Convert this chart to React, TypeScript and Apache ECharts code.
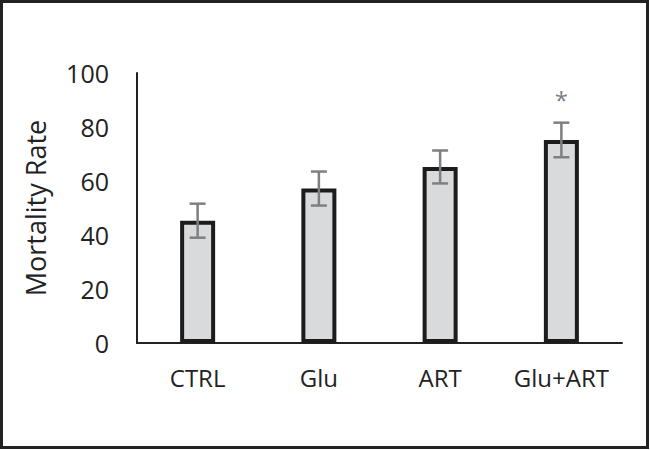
import React, { useEffect, useRef } from "react";
import * as echarts from "echarts";

const categories = ["CTRL", "Glu", "ART", "Glu+ART"];
const meanValues = [45.3, 57.2, 65.2, 75.2];
const errorValues = [6.3, 6.3, 6.1, 6.4];
const yTicks = [0, 20, 40, 60, 80, 100];
const significance = ["", "", "", "*"];

export default function App() {
  const ref = useRef<HTMLDivElement>(null);
  useEffect(() => {
    if (!ref.current) return;
    const chart = echarts.init(ref.current, undefined, { renderer: "svg" });
    const font = "'Open Sans', sans-serif";
    const errData = meanValues.map((m, i) => [i, m - errorValues[i], m + errorValues[i], significance[i]]);
    chart.setOption({
      animation: false,
      backgroundColor: "#ffffff",
      grid: { left: 137, right: 28, top: 73, bottom: 107 },
      graphic: [
        {
          type: "rect",
          shape: { x: 1.5, y: 1.5, width: 646, height: 446 },
          style: { fill: "none", stroke: "#222222", lineWidth: 3 },
          silent: true,
        },
      ],
      xAxis: {
        type: "category",
        data: categories,
        axisLine: { show: true, lineStyle: { color: "#222222", width: 2 } },
        axisTick: { show: false },
        axisLabel: { color: "#222222", fontSize: 24, fontFamily: font, margin: 22, interval: 0, hideOverlap: false },
      },
      yAxis: {
        type: "value",
        min: yTicks[0],
        max: yTicks[yTicks.length - 1],
        interval: 20,
        name: "Mortality Rate",
        nameLocation: "middle",
        nameGap: 88,
        nameTextStyle: { color: "#222222", fontSize: 27, fontFamily: font },
        axisLine: { show: true, lineStyle: { color: "#222222", width: 2 } },
        axisTick: { show: false },
        splitLine: { show: false },
        axisLabel: { color: "#222222", fontSize: 25, fontFamily: font, margin: 28 },
      },
      series: [
        {
          type: "bar",
          data: meanValues,
          barWidth: 35,
          itemStyle: { color: "#d9dadb", borderColor: "#1c1c1c", borderWidth: 4 },
        },
        {
          type: "custom",
          data: errData,
          z: 10,
          renderItem: (params: any, api: any) => {
            const x = api.coord([api.value(0), 0])[0];
            const lo = api.coord([api.value(0), api.value(1)])[1];
            const hi = api.coord([api.value(0), api.value(2)])[1];
            const label = errData[params.dataIndex][3] as string;
            const stroke = { stroke: "#7f7f7f", lineWidth: 2.5 };
            const children: any[] = [
              { type: "line", shape: { x1: x, y1: lo, x2: x, y2: hi }, style: stroke },
              { type: "line", shape: { x1: x - 8, y1: lo, x2: x + 8, y2: lo }, style: stroke },
              { type: "line", shape: { x1: x - 8, y1: hi, x2: x + 8, y2: hi }, style: stroke },
            ];
            if (label) {
              children.push({
                type: "text",
                style: {
                  text: label,
                  x: x,
                  y: hi - 11,
                  align: "center",
                  verticalAlign: "bottom",
                  fill: "#7f7f7f",
                  font: "24px 'Open Sans', sans-serif",
                },
              });
            }
            return { type: "group", children };
          },
        },
      ],
    });
    return () => chart.dispose();
  }, []);
  return (
    <div
      ref={ref}
      style={{ position: "fixed", left: 0, top: 0, width: 650, height: 450 }}
    />
  );
}
